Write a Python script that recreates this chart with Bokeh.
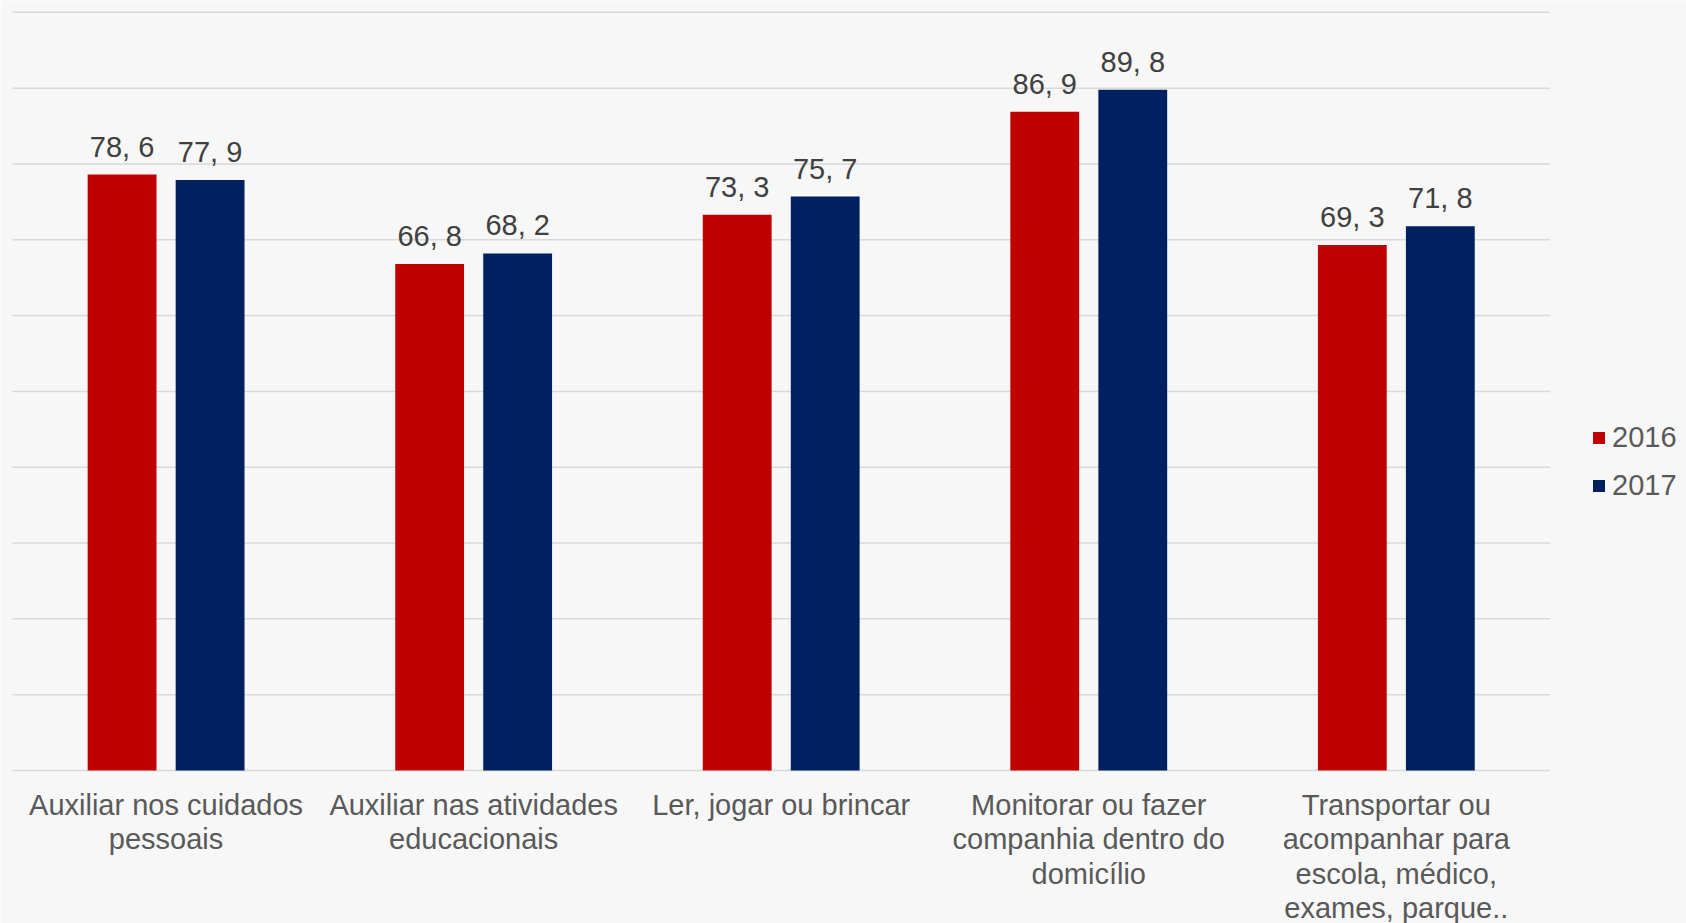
from bokeh.plotting import figure
from bokeh.models import ColumnDataSource, Range1d, Legend, LegendItem
from bokeh.transform import dodge
from bokeh.core.properties import value
from bokeh.embed import file_html
from bokeh.resources import INLINE

categories = [
    "Auxiliar nos cuidados pessoais",
    "Auxiliar nas atividades educacionais",
    "Ler, jogar ou brincar",
    "Monitorar ou fazer companhia dentro do domicílio",
    "Transportar ou acompanhar para escola, médico, exames, parque..",
]
category_labels = [
    "Auxiliar nos cuidados\npessoais",
    "Auxiliar nas atividades\neducacionais",
    "Ler, jogar ou brincar",
    "Monitorar ou fazer\ncompanhia dentro do\ndomicílio",
    "Transportar ou\nacompanhar para\nescola, médico,\nexames, parque..",
]
years = ["2016", "2017"]
values_2016 = [78.6, 66.8, 73.3, 86.9, 69.3]
values_2017 = [77.9, 68.2, 75.7, 89.8, 71.8]
y_ticks = list(range(0, 101, 10))

RED = "#c00000"
BLUE = "#002060"
BG = "#f7f7f7"
FONT = "Liberation Sans"
n = len(categories)


def fmt(v):
    return f"{v:.1f}".replace(".", ", ")


src = ColumnDataSource(dict(
    cat=categories,
    pos=[i + 0.5 for i in range(n)],
    label=category_labels,
    base=[0] * n,
    v2016=values_2016,
    v2017=values_2017,
    l2016=[fmt(v) for v in values_2016],
    l2017=[fmt(v) for v in values_2017],
))

grid_src = ColumnDataSource(dict(
    x0=[0] * len(y_ticks),
    x1=[n] * len(y_ticks),
    y=y_ticks,
))

p = figure(
    width=1686, height=923,
    x_range=Range1d(-0.0384, 5.4435),
    y_range=Range1d(-20.18, 101.56),
    x_axis_location=None, y_axis_location=None,
    output_backend="svg", toolbar_location=None,
    min_border_left=0, min_border_right=0, min_border_top=0, min_border_bottom=0,
)
p.background_fill_color = BG
p.border_fill_color = BG
p.outline_line_color = None
p.grid.visible = False

p.segment(x0="x0", x1="x1", y0="y", y1="y", source=grid_src,
          line_color="#d9d9d9", line_width=1.5)

off = 0.1431
bw = 0.2238
r1 = p.vbar(x=dodge("pos", -off), top="v2016", width=bw, source=src,
            fill_color=RED, line_color=None)
r2 = p.vbar(x=dodge("pos", off), top="v2017", width=bw, source=src,
            fill_color=BLUE, line_color=None)

for key, o in (("2016", -off), ("2017", off)):
    p.text(x=dodge("pos", o), y="v" + key, text="l" + key, source=src,
           text_align="center", text_baseline="alphabetic", y_offset=-28,
           text_font=value(FONT), text_font_size="29px", text_color="#404040")

p.text(x="pos", y="base", text="label", source=src,
       text_align="center", text_baseline="top", y_offset=18, text_line_height=1.08,
       text_font=value(FONT), text_font_size="29px", text_color="#595959")

legend = Legend(
    items=[LegendItem(label=years[0], renderers=[r1]), LegendItem(label=years[1], renderers=[r2])],
    location=(1591, 421), orientation="vertical",
    glyph_width=15, glyph_height=15, label_standoff=6,
    label_text_font=FONT, label_text_font_size="29px", label_text_color="#595959",
    label_height=34, spacing=14, padding=0, margin=0,
    border_line_color=None, background_fill_alpha=0,
)
p.add_layout(legend, "center")

html = file_html(p, INLINE)
html = html.replace("<body>", '<body style="background-color:#f7f7f7;">', 1)
open("out.html", "w").write(html)
